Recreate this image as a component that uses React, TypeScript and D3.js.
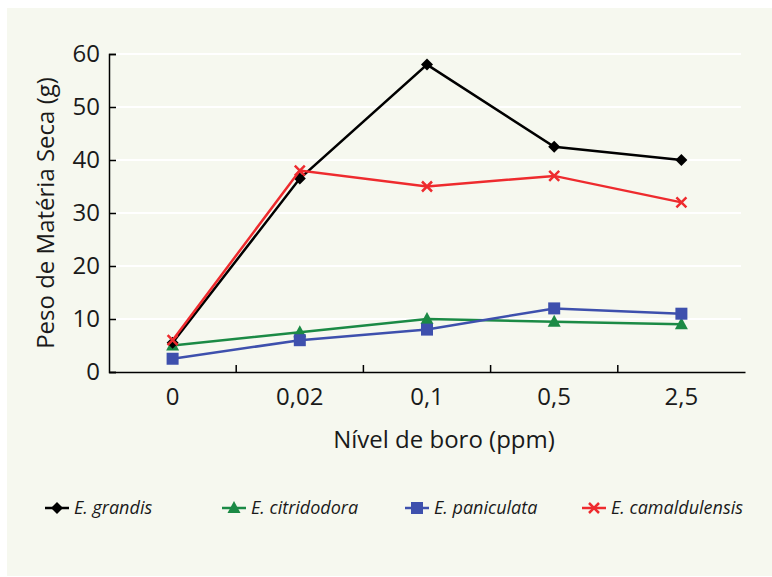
import React, { useEffect, useRef } from "react";
import * as d3 from "d3";

const categories = ["0", "0,02", "0,1", "0,5", "2,5"];
const yTicks = [0, 10, 20, 30, 40, 50, 60];
const seriesNames = ["E. grandis", "E. citridodora", "E. paniculata", "E. camaldulensis"];
const grandis = [5.5, 36.5, 58, 42.5, 40];
const citridodora = [5, 7.5, 10, 9.5, 9];
const paniculata = [2.5, 6, 8, 12, 11];
const camaldulensis = [6, 38, 35, 37, 32];
const colors = ["#000000", "#1b8a45", "#3e50ad", "#ee2b2e"];
const markers = ["diamond", "triangle", "square", "cross"];

const W = 772, H = 577;
const FONT = "'Open Sans', 'Noto Sans', sans-serif";

export default function App() {
  const ref = useRef<SVGSVGElement>(null);
  useEffect(() => {
    const svg = d3.select(ref.current);
    svg.selectAll("*").remove();
    const values = [grandis, citridodora, paniculata, camaldulensis];

    svg.append("rect").attr("x", 7).attr("y", 8).attr("width", W - 7).attr("height", H - 9).attr("fill", "#f6f8ef");

    const left = 109, right = 745, top = 54, bottom = 372;
    const x = d3.scaleBand().domain(categories).range([left, right]);
    const y = d3.scaleLinear().domain([0, 60]).range([bottom, top]);

    // gridlines
    svg.append("g").selectAll("line").data(yTicks.filter(t => t > 0)).join("line")
      .attr("x1", left + 7).attr("x2", right - 4)
      .attr("y1", d => y(d)).attr("y2", d => y(d))
      .attr("stroke", "#ffffff").attr("stroke-width", 2);

    // y axis
    const ya = svg.append("g").attr("transform", `translate(${left},0)`)
      .call(d3.axisRight(y).tickValues(yTicks).tickSize(7).tickFormat(() => ""));
    ya.select(".domain").attr("stroke", "#000").attr("stroke-width", 1.5);
    ya.selectAll(".tick line").attr("stroke", "#000").attr("stroke-width", 1.5);
    svg.append("g").selectAll("text").data(yTicks).join("text")
      .attr("x", left - 9).attr("y", d => y(d)).attr("dy", "0.35em")
      .attr("text-anchor", "end").attr("font-family", FONT).attr("font-size", 24)
      .attr("fill", "#1a1a1a").text(d => d);

    // x axis
    const xa = svg.append("g").attr("transform", `translate(0,${bottom})`)
      .call(d3.axisTop(x).tickSize(0).tickFormat(() => ""));
    xa.select(".domain").attr("stroke", "#000").attr("stroke-width", 1.5);
    const boundaries = categories.slice(1).map(c => x(c) as number);
    svg.append("g").selectAll("line").data(boundaries).join("line")
      .attr("x1", d => d).attr("x2", d => d).attr("y1", bottom).attr("y2", bottom - 7)
      .attr("stroke", "#000").attr("stroke-width", 1.5);
    svg.append("g").selectAll("text").data(categories).join("text")
      .attr("x", d => (x(d) as number) + x.bandwidth() / 2).attr("y", bottom + 33)
      .attr("text-anchor", "middle").attr("font-family", FONT).attr("font-size", 24)
      .attr("fill", "#1a1a1a").text(d => d);

    // titles
    svg.append("text").attr("x", 444).attr("y", 448).attr("text-anchor", "middle")
      .attr("font-family", FONT).attr("font-size", 24).attr("fill", "#1a1a1a").text("Nível de boro (ppm)");
    svg.append("text").attr("transform", `translate(54,213) rotate(-90)`)
      .attr("text-anchor", "middle").attr("font-family", FONT).attr("font-size", 24)
      .attr("fill", "#1a1a1a").text("Peso de Matéria Seca (g)");

    const drawMarker = (g: any, kind: string, cx: number, cy: number, color: string) => {
      if (kind === "diamond") {
        g.append("path").attr("d", `M${cx},${cy - 6}L${cx + 6},${cy}L${cx},${cy + 6}L${cx - 6},${cy}Z`).attr("fill", color);
      } else if (kind === "triangle") {
        g.append("path").attr("d", `M${cx},${cy - 7}L${cx + 6.5},${cy + 5}L${cx - 6.5},${cy + 5}Z`).attr("fill", color);
      } else if (kind === "square") {
        g.append("rect").attr("x", cx - 6).attr("y", cy - 6).attr("width", 12).attr("height", 12).attr("fill", color);
      } else {
        g.append("path").attr("d", `M${cx - 5},${cy - 5}L${cx + 5},${cy + 5}M${cx - 5},${cy + 5}L${cx + 5},${cy - 5}`)
          .attr("stroke", color).attr("stroke-width", 2.5).attr("fill", "none");
      }
    };

    const line = d3.line<number>().x((_, i) => (x(categories[i]) as number) + x.bandwidth() / 2).y(d => y(d));
    const order = [1, 2, 0, 3];
    order.forEach(si => {
      const g = svg.append("g");
      g.append("path").attr("d", line(values[si])).attr("fill", "none").attr("stroke", colors[si]).attr("stroke-width", 2.5);
      values[si].forEach((v, i) => drawMarker(g, markers[si], (x(categories[i]) as number) + x.bandwidth() / 2, y(v), colors[si]));
    });

    // legend
    const legendX = [45, 222, 405, 582];
    const ly = 508;
    seriesNames.forEach((name, si) => {
      const g = svg.append("g");
      const lx = legendX[si];
      g.append("line").attr("x1", lx).attr("x2", lx + 24).attr("y1", ly).attr("y2", ly).attr("stroke", colors[si]).attr("stroke-width", 2.5);
      drawMarker(g, markers[si], lx + 12, ly, colors[si]);
      g.append("text").attr("x", lx + 29).attr("y", ly).attr("dy", "0.35em")
        .attr("font-family", FONT).attr("font-size", 18).attr("font-style", "italic")
        .attr("fill", "#1a1a1a").text(name);
    });
  }, []);
  return <svg ref={ref} width={W} height={H} style={{ position: "absolute", left: 0, top: 0 }} />;
}
